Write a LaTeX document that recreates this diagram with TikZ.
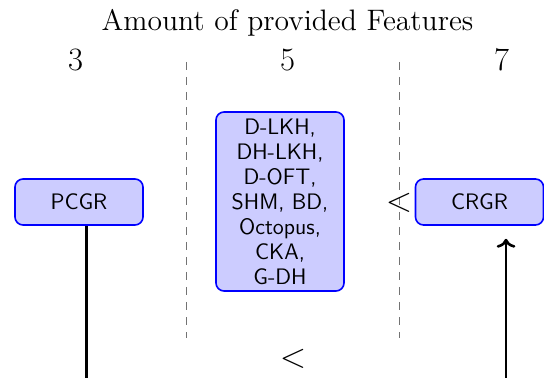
\documentclass[tikz,border=0pt]{standalone}
\usetikzlibrary{arrows.meta}
\begin{document}
\begin{tikzpicture}[x=0.5pt,y=-0.5pt,
  box/.style={draw=blue, fill=blue!20, line width=0.8pt, rounded corners=4pt,
    minimum width=64pt, text width=58pt, align=center, inner sep=0pt,
    font=\fontsize{11.2}{12.5}\selectfont\sffamily},
  sep/.style={draw=gray!90!black, line width=0.8pt, dash pattern=on 4pt off 3.5pt},
  conn/.style={draw=black, line width=1.3pt},
  lt/.style={inner sep=0pt, font=\fontsize{19}{22}\selectfont},
  num/.style={anchor=base, inner sep=0pt, font=\fontsize{16.3}{19}\selectfont}]
\useasboundingbox (0,0) rectangle (544,378);
% title and column numbers
\node[anchor=base, inner sep=0pt, font=\fontsize{14.8}{17}\selectfont] (title) at (287.5,31) {Amount of provided Features};
\node[num] (n3) at (75.5,70.5) {3};
\node[num] (n5) at (287.5,70.5) {5};
\node[num] (n7) at (501.5,70.5) {7};
% separators
\draw[sep] (186.5,62) -- (186.5,338);
\draw[sep] (399.5,62) -- (399.5,338);
% boxes
\node[box, minimum height=23pt] (PCGR) at (79,202) {PCGR};
\node[box, minimum height=89.5pt] (mid) at (280,201.5) {D-LKH,\\DH-LKH,\\D-OFT,\\SHM, BD,\\Octopus,\\CKA,\\G-DH};
\node[box, minimum height=23pt] (CRGR) at (479.5,202) {CRGR};
% relations
\node[lt] (lt1) at (399,202.5) {$<$};
\node[lt] (lt2) at (293,358.5) {$<$};
% connectors
\coordinate (pb) at (86.5,378);
\coordinate (cb) at (506,378);
\draw[conn] (PCGR.south -| pb) -- (pb);
\draw[conn, ->, shorten >=6.5pt] (cb) -- (CRGR.south -| cb);
\end{tikzpicture}
\end{document}
